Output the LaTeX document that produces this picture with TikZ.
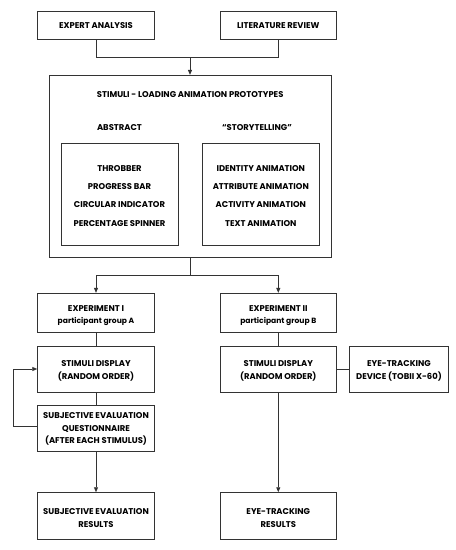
\documentclass[tikz,border=0pt]{standalone}
\usepackage{fontspec}
\setmainfont{Poppins}
\usetikzlibrary{arrows.meta}
\begin{document}
\begin{tikzpicture}[x=1pt,y=-1pt,
  box/.style={draw=black!80,line width=0.9pt,fill=white,inner sep=0pt},
  lab/.style={font=\fontsize{8.4}{10}\selectfont\bfseries,align=center,inner sep=0pt},
  small/.style={font=\fontsize{7.6}{9}\selectfont\bfseries},
  conn/.style={draw=black!80,line width=0.9pt},
  arr/.style={conn,-{Triangle[length=5pt,width=4pt]}}]
\useasboundingbox (0,0) rectangle (456,550);
% boxes
\node[box,minimum width=116.6pt,minimum height=28.3pt] (exp) at (96,25.2) {};
\node[lab] at (exp) {EXPERT ANALYSIS};
\node[box,minimum width=116.6pt,minimum height=28.3pt] (lit) at (278.3,25.2) {};
\node[lab] at (lit) {LITERATURE REVIEW};
\node[box,minimum width=281.7pt,minimum height=181.7pt] (stim) at (190.2,166.2) {};
\node[lab] (stimt) at (190.2,95) {STIMULI - LOADING ANIMATION PROTOTYPES};
\node[lab] (abs) at (119.5,128) {ABSTRACT};
\node[lab] (story) at (257,128) {“STORYTELLING”};
\node[box,minimum width=117pt,minimum height=102pt] (absb) at (119.5,194.3) {};
\node[box,minimum width=117pt,minimum height=102pt] (storyb) at (260.8,194.3) {};
\node[lab] (a1) at (119.5,168.3) {THROBBER};
\node[lab] (a2) at (119.5,186.7) {PROGRESS BAR};
\node[lab] (a3) at (119.5,205) {CIRCULAR INDICATOR};
\node[lab] (a4) at (119.5,223.3) {PERCENTAGE SPINNER};
\node[lab] (s1) at (260.8,168.3) {IDENTITY ANIMATION};
\node[lab] (s2) at (260.8,186.7) {ATTRIBUTE ANIMATION};
\node[lab] (s3) at (260.8,205) {ACTIVITY ANIMATION};
\node[lab] (s4) at (260.8,223.3) {TEXT ANIMATION};
% experiments
\node[box,minimum width=116.6pt,minimum height=39.4pt] (e1) at (96,313) {};
\node[lab] at (96,308.3) {EXPERIMENT I};
\node[lab,small] at (96,321.7) {participant group A};
\node[box,minimum width=116.6pt,minimum height=39.4pt] (e2) at (278.3,313) {};
\node[lab] at (278.3,308.3) {EXPERIMENT II};
\node[lab,small] at (278.3,321.7) {participant group B};
\node[box,minimum width=116.6pt,minimum height=46pt] (d1) at (96,369) {};
\node[lab] at (96,370.6) {STIMULI DISPLAY\\[2.8pt](RANDOM ORDER)};
\node[box,minimum width=116.6pt,minimum height=46pt] (d2) at (278.3,369) {};
\node[lab] at (278.3,370.6) {STIMULI DISPLAY\\[2.8pt](RANDOM ORDER)};
\node[box,minimum width=99.4pt,minimum height=46pt] (eye) at (399,369) {};
\node[lab] at (399,370.6) {EYE-TRACKING\\[2.8pt]DEVICE (TOBII X-60)};
\node[box,minimum width=116.6pt,minimum height=46pt] (q) at (96,428) {};
\node[lab] at (96,429.2) {SUBJECTIVE EVALUATION\\[2.4pt]QUESTIONNAIRE\\[2.4pt](AFTER EACH STIMULUS)};
\node[box,minimum width=116.6pt,minimum height=46.6pt] (r1) at (96,516) {};
\node[lab] at (96,518) {SUBJECTIVE EVALUATION\\[2.8pt]RESULTS};
\node[box,minimum width=116.6pt,minimum height=46.6pt] (r2) at (278.3,516) {};
\node[lab] at (278.3,518) {EYE-TRACKING\\[2.8pt]RESULTS};
% connectors
\coordinate (j1) at (190,57.3);
\draw[conn] (exp.south) |- (j1) -| (lit.south);
\draw[arr] (j1) -- (stim.north -| j1);
\coordinate (j2) at (190.3,275);
\draw[conn] (stim.south -| j2) -- (j2);
\draw[arr] (j2) -| (e1.north);
\draw[arr] (j2) -| (e2.north);
\draw[conn] (e1.south) -- (d1.north);
\draw[conn] (e2.south) -- (d2.north);
\draw[conn] (d1.south) -- (q.north);
\draw[conn] (d2.east) -- (eye.west);
\draw[arr] (q.south) -- (r1.north);
\draw[arr] (d2.south) -- (r2.north);
\coordinate (lp) at (13.3,426.7);
\draw[arr] (q.west |- lp) -- (lp) |- (d1.west);
\end{tikzpicture}
\end{document}
